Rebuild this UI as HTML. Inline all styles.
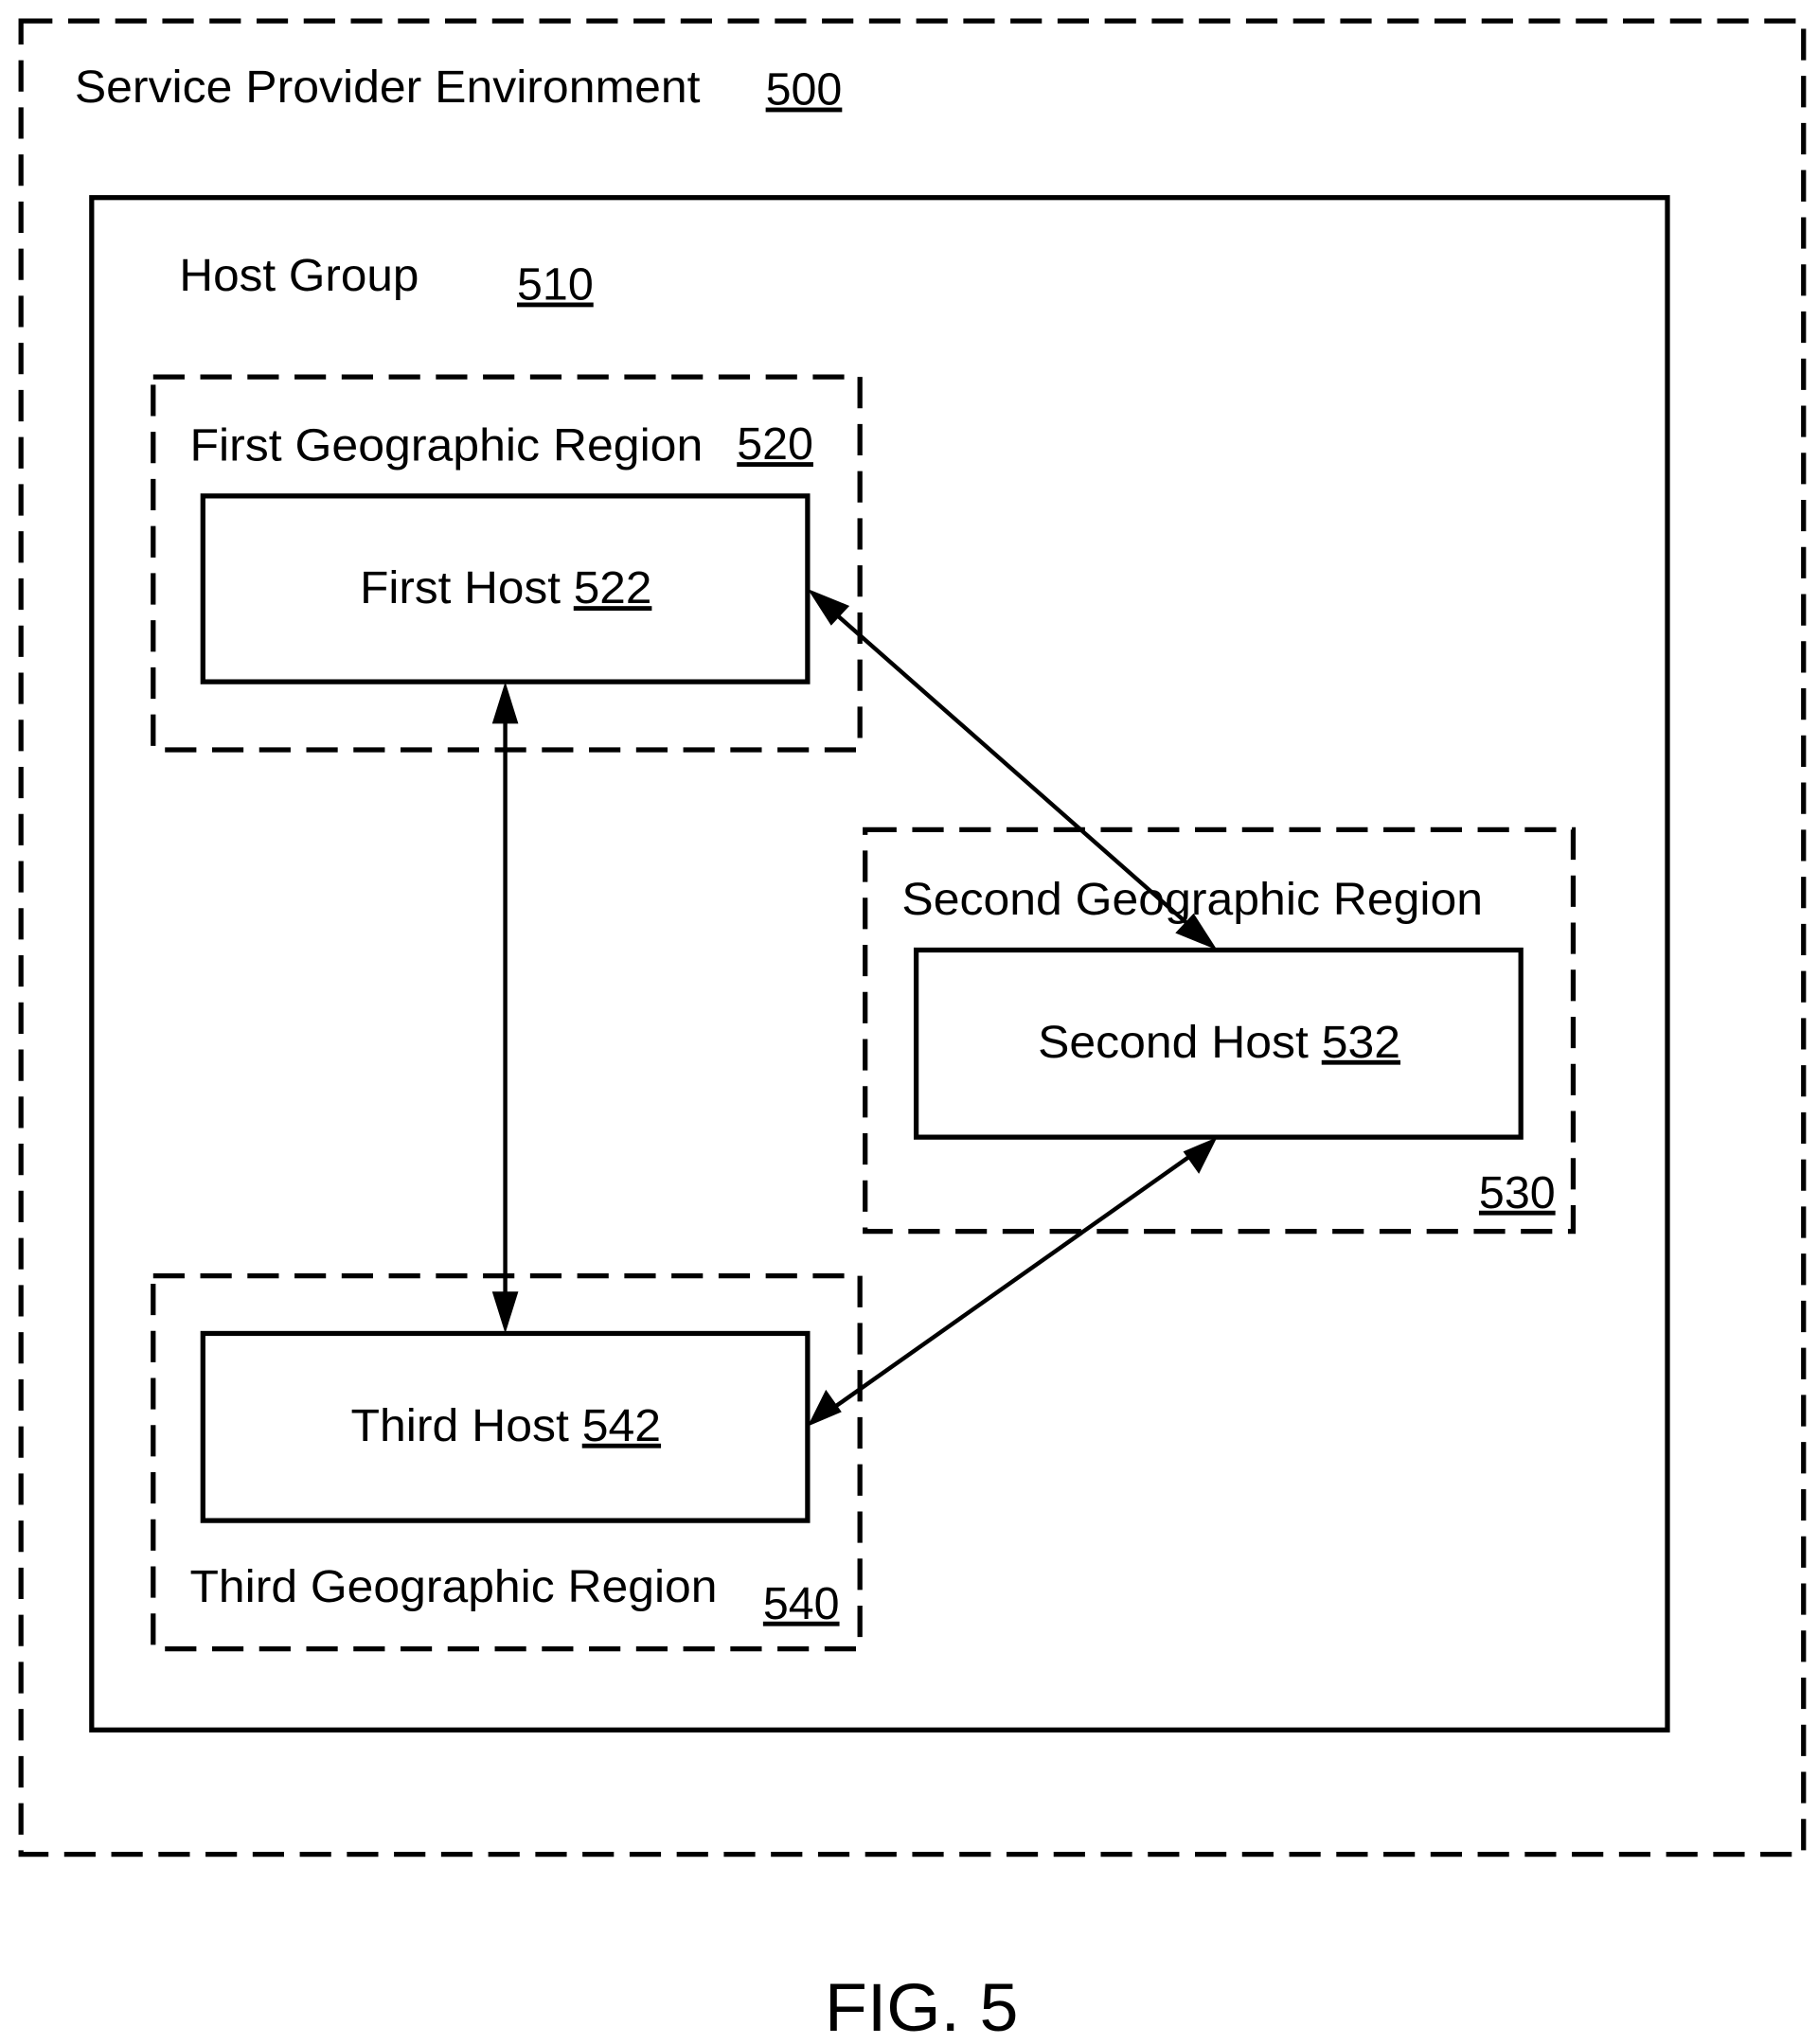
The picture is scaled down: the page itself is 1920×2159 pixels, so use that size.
<!DOCTYPE html>
<html><head><meta charset="utf-8"><style>
html,body{margin:0;padding:0;background:#fff;}
svg{display:block;}
text{font-family:"Liberation Sans",Arial,sans-serif;fill:#000;}
</style></head><body>
<svg width="1920" height="2159" viewBox="0 0 1389 1562" xmlns="http://www.w3.org/2000/svg">
<g fill="none" stroke="#000" stroke-width="3.8" stroke-dasharray="24 12">
<rect x="16" y="16" width="1362" height="1401"/>
<rect x="117" y="288" width="540" height="285"/>
<rect x="661" y="634" width="541" height="307"/>
<rect x="117" y="975" width="540" height="285"/>
</g>
<g fill="none" stroke="#000" stroke-width="3.8">
<rect x="70" y="151" width="1204" height="1171"/>
<rect x="155" y="379" width="462" height="142"/>
<rect x="700" y="726" width="462" height="143"/>
<rect x="155" y="1019" width="462" height="143"/>
</g>
<g stroke="#000" stroke-width="3.2">
<line x1="386" y1="545" x2="386" y2="995"/>
<line x1="636" y1="467" x2="912" y2="710"/>
<line x1="910" y1="883" x2="638" y2="1075"/>
</g>
<g fill="#000">
<polygon points="386,521 376,553 396,553"/>
<polygon points="386,1019 376,987 396,987"/>
<polygon points="617,450 649,463 635,478"/>
<polygon points="930,726 898,713 912,698"/>
<polygon points="930,869 916,897 904,880"/>
<polygon points="617,1090 631,1062 643,1079"/>
</g>
<g font-size="35" lengthAdjust="spacingAndGlyphs">
<text x="57" y="78" textLength="478" lengthAdjust="spacingAndGlyphs">Service Provider Environment</text>
<text x="585" y="80" text-decoration="underline">500</text>
<text x="137" y="222" textLength="183" lengthAdjust="spacingAndGlyphs">Host Group</text>
<text x="395" y="229" text-decoration="underline">510</text>
<text x="145" y="352" textLength="392" lengthAdjust="spacingAndGlyphs">First Geographic Region</text>
<text x="563" y="351" text-decoration="underline">520</text>
<text x="275" y="461" textLength="223" lengthAdjust="spacingAndGlyphs">First Host <tspan text-decoration="underline">522</tspan></text>
<text x="689" y="699" textLength="444" lengthAdjust="spacingAndGlyphs">Second Geographic Region</text>
<text x="793" y="808" textLength="277" lengthAdjust="spacingAndGlyphs">Second Host <tspan text-decoration="underline">532</tspan></text>
<text x="1130" y="923" text-decoration="underline">530</text>
<text x="268" y="1101" textLength="237" lengthAdjust="spacingAndGlyphs">Third Host <tspan text-decoration="underline">542</tspan></text>
<text x="145" y="1224" textLength="403" lengthAdjust="spacingAndGlyphs">Third Geographic Region</text>
<text x="583" y="1237" text-decoration="underline">540</text>
</g>
<text x="630" y="1552" font-size="52" textLength="148" lengthAdjust="spacingAndGlyphs">FIG. 5</text>
</svg>
</body></html>
